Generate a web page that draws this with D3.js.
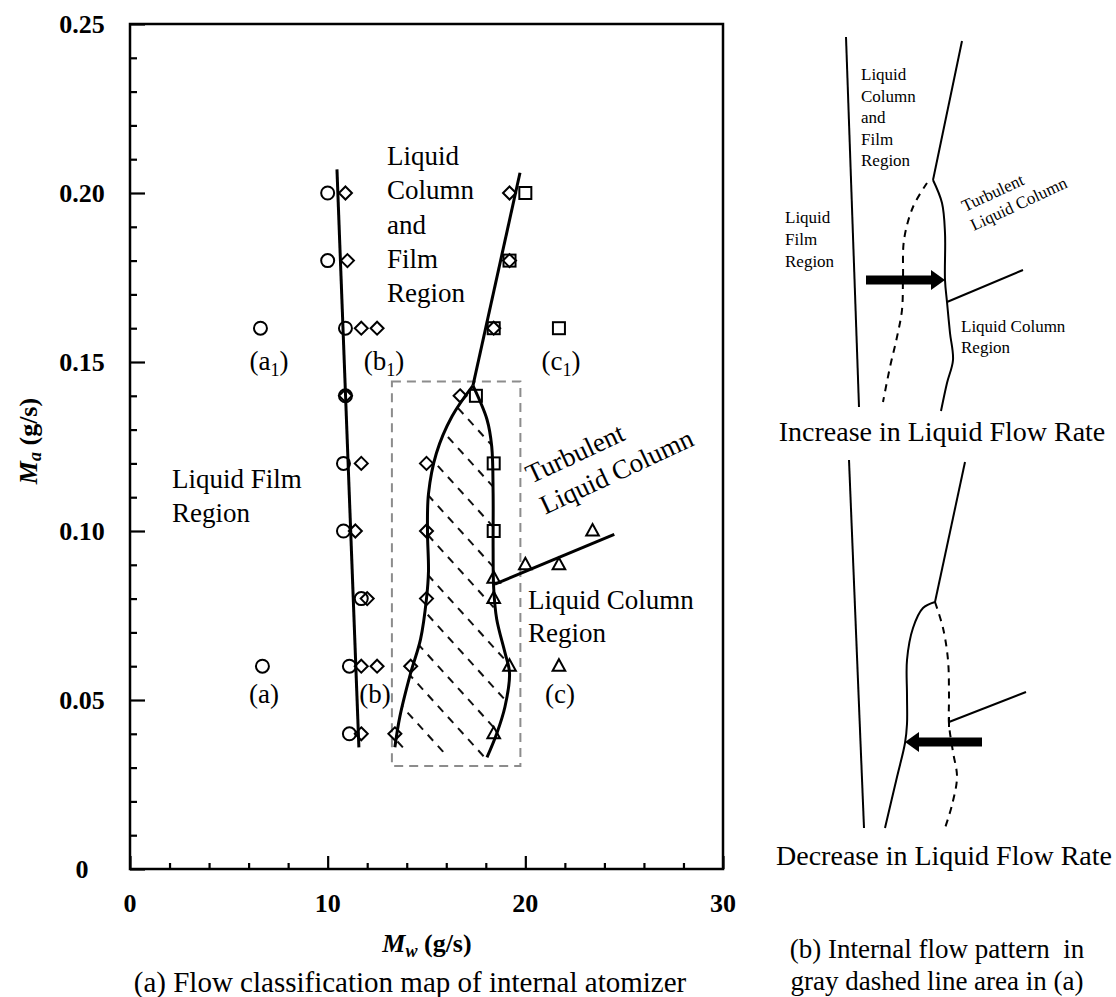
<!DOCTYPE html>
<html>
<head>
<meta charset="utf-8">
<script src="https://cdn.jsdelivr.net/npm/d3@7"></script>
<style>
  body { margin: 0; background: #fff; }
  svg { display: block; font-family: "Liberation Serif", "Times New Roman", serif; }
</style>
</head>
<body>
<svg id="chart" width="1116" height="997"></svg>
<script>
// ---- Flow regime observations: [water flow Mw (g/s), air flow Ma (g/s)] ----
const filmPoints = [
  [6.6, 0.16], [6.7, 0.06], [10.0, 0.20], [10.0, 0.18], [10.9, 0.16], [10.9, 0.14],
  [10.8, 0.12], [10.8, 0.10], [11.7, 0.08], [11.1, 0.06], [11.1, 0.04]
];
const columnFilmPoints = [
  [10.9, 0.20], [11.0, 0.18], [11.7, 0.16], [12.5, 0.16], [10.9, 0.14], [11.7, 0.12],
  [11.4, 0.10], [12.0, 0.08], [11.7, 0.06], [12.5, 0.06], [11.7, 0.04],
  [19.2, 0.20], [19.2, 0.18], [18.4, 0.16], [16.7, 0.14], [15.0, 0.12], [15.0, 0.10],
  [15.0, 0.08], [14.2, 0.06], [13.4, 0.04]
];
const turbulentPoints = [
  [20.0, 0.20], [19.2, 0.18], [18.4, 0.16], [21.7, 0.16], [17.5, 0.14], [18.4, 0.12], [18.4, 0.10]
];
const columnPoints = [
  [23.4, 0.10], [20.0, 0.09], [21.7, 0.09], [18.4, 0.086], [18.4, 0.08],
  [19.2, 0.06], [21.7, 0.06], [18.4, 0.04]
];

// ---- Regime boundaries ----
const filmBoundary = [[10.47, 0.207], [11.58, 0.036]];
const upperBoundary = [[19.73, 0.206], [17.35, 0.143]];
const hysteresisLeft = [
  [17.35, 0.143], [16.3, 0.134], [15.5, 0.123], [15.1, 0.111], [15.05, 0.100],
  [15.1, 0.088], [15.0, 0.080], [14.7, 0.068], [14.2, 0.058], [13.65, 0.045], [13.4, 0.036]
];
const hysteresisRight = [
  [17.35, 0.143], [18.06, 0.133], [18.3, 0.125], [18.37, 0.111], [18.37, 0.095],
  [18.4, 0.083], [18.55, 0.074], [18.97, 0.064], [19.2, 0.058], [18.97, 0.048],
  [18.55, 0.040], [18.06, 0.033]
];
const turbulentBoundary = [[18.46, 0.0843], [24.5, 0.099]];
const dashedBoxX = [13.25, 19.75];
const dashedBoxY = [0.0305, 0.1442];

// ---- Axis ticks ----
const xMajorTicks = [0, 10, 20, 30];
const xMinorTicks = [2, 4, 6, 8, 12, 14, 16, 18, 22, 24, 26, 28];
const yMajorTicks = [0, 0.05, 0.10, 0.15, 0.20, 0.25];
const yMajorLabels = ["0", "0.05", "0.10", "0.15", "0.20", "0.25"];
const yMinorTicks = d3.range(1, 25).filter(i => i % 5 !== 0).map(i => i / 100);

// ---- Schematic (b): panel-local sketch coordinates ----
const incLeftWall = [[70, 37], [83, 407]];
const incUpperLine = [[186, 41], [157, 180]];
const incSolid = [[157, 180], [166, 203], [169, 233], [169, 280], [171, 302], [174, 333], [177, 360], [171, 383], [165, 411]];
const incDashed = [[151, 183], [137, 207], [128, 240], [127, 277], [126, 310], [121, 337], [114, 367], [107, 402]];
const incBranch = [[171, 302], [247, 270]];
const incArrow = [[90, 280], [169, 280]];

const decLeftWall = [[73, 460], [88, 828]];
const decUpperLine = [[189, 462], [159, 602]];
const decSolid = [[159, 602], [147, 608], [137, 628], [131, 660], [131, 695], [131, 724], [129, 743], [121, 777], [109, 828]];
const decDashed = [[159, 602], [167, 628], [172, 660], [173, 695], [173, 724], [177, 752], [181, 777], [176, 805], [169, 828]];
const decBranch = [[173, 722], [250, 692]];
const decArrow = [[206, 742], [129, 742]];

const svg = d3.select("#chart");

// ================= (a) Flow classification map =================
const x = d3.scaleLinear().domain([0, 30]).range([130, 723]);
const y = d3.scaleLinear().domain([0, 0.25]).range([869, 24]);
const line = d3.line().x(d => x(d[0])).y(d => y(d[1]));
const smooth = d3.line().x(d => x(d[0])).y(d => y(d[1])).curve(d3.curveCatmullRom.alpha(0.5));

const plot = svg.append("g");

// gray dashed area marking the hysteresis zone
plot.append("rect")
  .attr("x", x(dashedBoxX[0])).attr("y", y(dashedBoxY[1]))
  .attr("width", x(dashedBoxX[1]) - x(dashedBoxX[0]))
  .attr("height", y(dashedBoxY[0]) - y(dashedBoxY[1]))
  .attr("fill", "none").attr("stroke", "#8c8c8c").attr("stroke-width", 2)
  .attr("stroke-dasharray", "9,6");

// hatched band between the two transition curves
const bandOutline = hysteresisLeft.concat(hysteresisRight.slice().reverse());
svg.append("defs").append("clipPath").attr("id", "bandClip")
  .append("path").attr("d", line(bandOutline) + "Z");
const hatch = plot.append("g").attr("clip-path", "url(#bandClip)");
const hx0 = x(12), hx1 = x(21);
for (let c = y(0.16); c <= y(0.0) + 200; c += 40) {
  hatch.append("line")
    .attr("x1", hx0).attr("y1", c - 300)
    .attr("x2", hx1).attr("y2", c - 300 + 1.1 * (hx1 - hx0))
    .attr("stroke", "#111").attr("stroke-width", 2).attr("stroke-dasharray", "8,7");
}

// boundary lines
[filmBoundary, upperBoundary, turbulentBoundary].forEach(b =>
  plot.append("path").attr("d", line(b)).attr("fill", "none")
    .attr("stroke", "#000").attr("stroke-width", 3));
[hysteresisLeft, hysteresisRight].forEach(b =>
  plot.append("path").attr("d", smooth(b)).attr("fill", "none")
    .attr("stroke", "#000").attr("stroke-width", 3));

// markers
const mk = plot.append("g").attr("fill", "none").attr("stroke", "#000").attr("stroke-width", 2);
mk.selectAll("circle.film").data(filmPoints).join("circle")
  .attr("cx", d => x(d[0])).attr("cy", d => y(d[1])).attr("r", 6.5);
mk.selectAll("path.colfilm").data(columnFilmPoints).join("path")
  .attr("d", d => `M${x(d[0])},${y(d[1]) - 6.5}l6.5,6.5l-6.5,6.5l-6.5,-6.5z`);
mk.selectAll("rect.turb").data(turbulentPoints).join("rect")
  .attr("x", d => x(d[0]) - 6).attr("y", d => y(d[1]) - 6).attr("width", 12).attr("height", 12);
mk.selectAll("path.col").data(columnPoints).join("path")
  .attr("d", d => `M${x(d[0])},${y(d[1]) - 7}l6.3,11.5h-12.6z`);

// frame and inward ticks
plot.append("rect").attr("x", 130).attr("y", 24).attr("width", 723 - 130).attr("height", 869 - 24)
  .attr("fill", "none").attr("stroke", "#000").attr("stroke-width", 2.5);

const xAxisMinor = d3.axisBottom(x).tickValues(xMinorTicks).tickSize(-6).tickFormat("");
const xAxisMajor = d3.axisBottom(x).tickValues(xMajorTicks).tickSize(-13).tickFormat("");
const yAxisMinor = d3.axisLeft(y).tickValues(yMinorTicks).tickSize(-7).tickFormat("");
const yAxisMajor = d3.axisLeft(y).tickValues(yMajorTicks).tickSize(-15).tickFormat("");
[[xAxisMinor, `translate(0,${y(0)})`], [xAxisMajor, `translate(0,${y(0)})`],
 [yAxisMinor, `translate(${x(0)},0)`], [yAxisMajor, `translate(${x(0)},0)`]].forEach(([ax, t]) => {
  const g = plot.append("g").attr("transform", t).call(ax);
  g.select(".domain").remove();
  g.selectAll("line").attr("stroke", "#000").attr("stroke-width", 2.2);
});

// tick labels
plot.selectAll("text.xl").data(xMajorTicks).join("text")
  .attr("x", d => x(d)).attr("y", 912).attr("text-anchor", "middle")
  .attr("font-size", 26).attr("font-weight", "bold").text(d => d);
plot.selectAll("text.yl").data(yMajorTicks).join("text")
  .attr("x", 82).attr("y", d => y(d) + 9).attr("text-anchor", "middle")
  .attr("font-size", 26).attr("font-weight", "bold").text((d, i) => yMajorLabels[i]);

// axis titles
const xt = plot.append("text").attr("x", 427).attr("y", 952).attr("text-anchor", "middle")
  .attr("font-size", 26).attr("font-weight", "bold");
xt.append("tspan").attr("font-style", "italic").text("M");
xt.append("tspan").attr("font-style", "italic").attr("font-size", 18).attr("dy", 5).text("w");
xt.append("tspan").attr("dy", -5).text(" (g/s)");

const yt = plot.append("text").attr("transform", "translate(37,441) rotate(-90)")
  .attr("text-anchor", "middle").attr("font-size", 26).attr("font-weight", "bold");
yt.append("tspan").attr("font-style", "italic").text("M");
yt.append("tspan").attr("font-style", "italic").attr("font-size", 18).attr("dy", 4).text("a");
yt.append("tspan").attr("dy", -4).text(" (g/s)");

// region annotations
function lines(g, xPos, yPos, rows, size, gap) {
  rows.forEach((r, i) => g.append("text").attr("x", xPos).attr("y", yPos + i * gap)
    .attr("font-size", size).text(r));
}
lines(plot, 387, 165, ["Liquid", "Column", "and", "Film", "Region"], 27, 34.3);
lines(plot, 172, 488, ["Liquid Film", "Region"], 27, 34);
lines(plot, 528, 609, ["Liquid Column", "Region"], 27, 33);

const turb = plot.append("g").attr("transform", "translate(531,484) rotate(-25)");
lines(turb, 0, 0, ["Turbulent"], 27, 0);
lines(turb, 0, 34, ["Liquid Column"], 27, 0);

// condition labels (a), (b), (c) and their subscripted counterparts
function condLabel(cx, by, letter, sub) {
  const t = plot.append("text").attr("x", cx).attr("y", by).attr("text-anchor", "middle")
    .attr("font-size", 27);
  t.append("tspan").text("(" + letter);
  if (sub) {
    t.append("tspan").attr("font-size", 18).attr("dy", 6).text(sub);
    t.append("tspan").attr("dy", -6).text(")");
  } else {
    t.append("tspan").text(")");
  }
}
condLabel(269, 370, "a", "1");
condLabel(384, 370, "b", "1");
condLabel(561, 370, "c", "1");
condLabel(264, 703, "a", null);
condLabel(375, 703, "b", null);
condLabel(560, 703, "c", null);

plot.append("text").attr("x", 410).attr("y", 992).attr("text-anchor", "middle")
  .attr("font-size", 29).text("(a) Flow classification map of internal atomizer");

// ================= (b) Internal flow pattern sketch =================
const sx = d3.scaleLinear().domain([0, 340]).range([776, 1116]);
const sy = d3.scaleLinear().domain([0, 997]).range([0, 997]);
const sLine = d3.line().x(d => sx(d[0])).y(d => sy(d[1]));
const sCurve = d3.line().x(d => sx(d[0])).y(d => sy(d[1])).curve(d3.curveCatmullRom.alpha(0.5));
const sk = svg.append("g").attr("fill", "none").attr("stroke", "#000").attr("stroke-width", 2);

[incLeftWall, incUpperLine, incBranch, decLeftWall, decUpperLine, decBranch].forEach(p =>
  sk.append("path").attr("d", sLine(p)));
[incSolid, decSolid].forEach(p => sk.append("path").attr("d", sCurve(p)));
[incDashed, decDashed].forEach(p => sk.append("path").attr("d", sCurve(p)).attr("stroke-dasharray", "7,6"));
// small tick at the start of the lower branch
sk.append("path").attr("d", sLine([[decBranch[0][0], decBranch[0][1] - 5], [decBranch[0][0], decBranch[0][1] + 5]]));

function arrow(a) {
  const [p0, p1] = a;
  const x0 = sx(p0[0]), x1 = sx(p1[0]), yy = sy(p0[1]);
  const dir = Math.sign(x1 - x0), head = 14;
  svg.append("line").attr("x1", x0).attr("y1", yy).attr("x2", x1 - dir * head).attr("y2", yy)
    .attr("stroke", "#000").attr("stroke-width", 9);
  svg.append("path").attr("fill", "#000")
    .attr("d", `M${x1},${yy}L${x1 - dir * head},${yy - 10}L${x1 - dir * head},${yy + 10}Z`);
}
arrow(incArrow);
arrow(decArrow);

const st = svg.append("g");
lines(st, sx(85), 80, ["Liquid", "Column", "and", "Film", "Region"], 17, 21.5);
lines(st, sx(9), 223, ["Liquid", "Film", "Region"], 17, 22);
lines(st, sx(185), 332, ["Liquid Column", "Region"], 17, 21);
const st2 = st.append("g").attr("transform", `translate(${sx(189)},212) rotate(-25)`);
lines(st2, 0, 0, ["Turbulent"], 17, 0);
lines(st2, 0, 21, ["Liquid Column"], 17, 0);

st.append("text").attr("x", 942).attr("y", 441).attr("text-anchor", "middle").attr("font-size", 28)
  .text("Increase in Liquid Flow Rate");
st.append("text").attr("x", 944).attr("y", 865).attr("text-anchor", "middle").attr("font-size", 28)
  .text("Decrease in Liquid Flow Rate");
st.append("text").attr("x", 937).attr("y", 958).attr("text-anchor", "middle").attr("font-size", 27)
  .attr("xml:space", "preserve").text("(b) Internal flow pattern  in");
st.append("text").attr("x", 937).attr("y", 990).attr("text-anchor", "middle").attr("font-size", 27)
  .text("gray dashed line area in (a)");
</script>
</body>
</html>
